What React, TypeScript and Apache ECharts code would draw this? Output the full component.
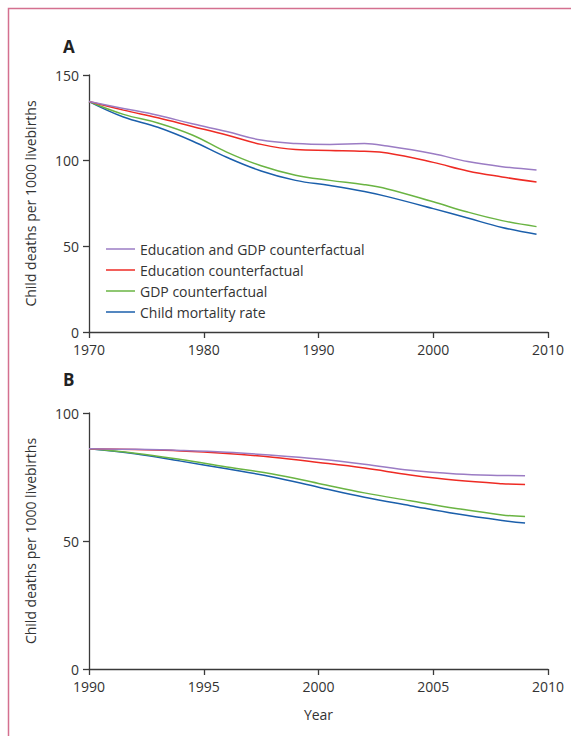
import React, { useEffect, useRef } from "react";
import * as echarts from "echarts";

const seriesNames = [
  "Education and GDP counterfactual",
  "Education counterfactual",
  "GDP counterfactual",
  "Child mortality rate",
];
const seriesColors = ["#9b7cc4", "#ee2b24", "#6ab443", "#1b5fab"];

// Panel A (1970-2009)
const yearsA = [1970, 1973, 1976, 1979, 1982, 1985, 1988, 1991, 1994, 1996, 2000, 2003, 2006, 2009];
const eduGdpA = [134.5, 130.5, 126.5, 121.5, 117, 112, 110, 109.5, 110, 108.5, 104, 99.5, 96.5, 94.5];
const eduA = [134.5, 129.5, 125, 120, 115, 109.5, 106.5, 106, 105.5, 104.5, 99, 94, 90.5, 87.5];
const gdpA = [134.5, 127, 122, 115, 105, 97, 91.5, 88.5, 86, 83.5, 76, 70, 65, 61.5];
const cmrA = [134.5, 125.5, 119.5, 111.5, 102, 94, 88.5, 85.5, 82, 79, 72, 66.5, 61, 57];

// Panel B (1990-2009)
const yearsB = [1990, 1992, 1994, 1996, 1998, 2000, 2002, 2004, 2006, 2008, 2009];
const eduGdpB = [86, 85.8, 85.4, 84.7, 83.5, 82, 80, 77.6, 76.2, 75.6, 75.5];
const eduB = [86, 85.7, 85.2, 84.2, 82.7, 80.7, 78.5, 75.8, 73.7, 72.4, 72.1];
const gdpB = [86, 84.3, 81.8, 78.9, 76.2, 72.5, 68.8, 65.7, 62.7, 60.2, 59.6];
const cmrB = [86, 84.1, 81.2, 78.2, 75.0, 71, 67.1, 63.8, 60.6, 58, 57];

const yTitle = "Child deaths per 1000 livebirths";
const xTitleB = "Year";

const FONT = "Open Sans";
const TEXT = "#333333";

function pair(xs: number[], ys: number[]) {
  return xs.map((x, i) => [x, ys[i]]);
}

export default function App() {
  const ref = useRef<HTMLDivElement>(null);
  useEffect(() => {
    if (!ref.current) return;
    const chart = echarts.init(ref.current, null, { renderer: "svg" });
    const lineCommon = {
      axisLine: { show: true, lineStyle: { color: "#3a3a3a", width: 1.3 } },
      axisTick: { show: true, inside: false, length: 6, lineStyle: { color: "#3a3a3a", width: 1.3 } },
      splitLine: { show: false },
    };
    const xLabel = { color: TEXT, fontFamily: FONT, fontSize: 14, margin: 10, formatter: (v: number) => String(v) };
    const yLabel = { color: TEXT, fontFamily: FONT, fontSize: 14, margin: 10, formatter: (v: number) => String(v) };
    const dataA = [eduGdpA, eduA, gdpA, cmrA];
    const dataB = [eduGdpB, eduB, gdpB, cmrB];
    const series: any[] = [];
    [3, 2, 1, 0].forEach((i) => {
      series.push({
        name: seriesNames[i],
        type: "line",
        xAxisIndex: 0,
        yAxisIndex: 0,
        data: pair(yearsA, dataA[i]),
        smooth: 0.4,
        symbol: "none",
        lineStyle: { color: seriesColors[i], width: 1.5 },
        itemStyle: { color: seriesColors[i] },
      });
      series.push({
        name: seriesNames[i],
        type: "line",
        xAxisIndex: 1,
        yAxisIndex: 1,
        data: pair(yearsB, dataB[i]),
        smooth: 0.4,
        symbol: "none",
        lineStyle: { color: seriesColors[i], width: 1.5 },
        itemStyle: { color: seriesColors[i] },
      });
    });
    const yName = {
      name: yTitle,
      nameLocation: "middle",
      nameGap: 52,
      nameTextStyle: { color: TEXT, fontFamily: FONT, fontSize: 14 },
    };
    chart.setOption({
      animation: false,
      backgroundColor: "#ffffff",
      grid: [
        { left: 89, top: 75, width: 459, height: 257 },
        { left: 89, top: 413, width: 459, height: 256 },
      ],
      xAxis: [
        { ...lineCommon, axisLabel: xLabel, type: "value", gridIndex: 0, min: 1970, max: 2010, interval: 10 },
        {
          ...lineCommon,
          axisLabel: xLabel,
          type: "value",
          gridIndex: 1,
          min: 1990,
          max: 2010,
          interval: 5,
          name: xTitleB,
          nameLocation: "middle",
          nameGap: 38,
          nameTextStyle: { color: TEXT, fontFamily: FONT, fontSize: 14 },
        },
      ],
      yAxis: [
        { ...lineCommon, ...yName, axisLabel: yLabel, type: "value", gridIndex: 0, min: 0, max: 150, interval: 50 },
        { ...lineCommon, ...yName, axisLabel: yLabel, type: "value", gridIndex: 1, min: 0, max: 100, interval: 50 },
      ],
      legend: {
        data: seriesNames,
        orient: "vertical",
        left: 101,
        top: 237,
        icon: "rect",
        itemWidth: 29,
        itemHeight: 1.5,
        itemGap: 7,
        selectedMode: false,
        textStyle: { color: TEXT, fontFamily: FONT, fontSize: 14, lineHeight: 14 },
      },
      graphic: [
        {
          type: "rect",
          shape: { x: 8.5, y: 8.5, width: 700, height: 900 },
          style: { fill: "none", stroke: "#d4708f", lineWidth: 1.5 },
          silent: true,
        },
        {
          type: "text",
          left: 63,
          top: 38,
          style: { text: "A", fill: "#222", font: `bold 17px "${FONT}"` },
        },
        {
          type: "text",
          left: 63,
          top: 371,
          style: { text: "B", fill: "#222", font: `bold 17px "${FONT}"` },
        },
      ],
      series,
    });
    return () => chart.dispose();
  }, []);
  return (
    <div
      ref={ref}
      style={{ position: "absolute", left: 0, top: 0, width: 571, height: 736 }}
    />
  );
}
